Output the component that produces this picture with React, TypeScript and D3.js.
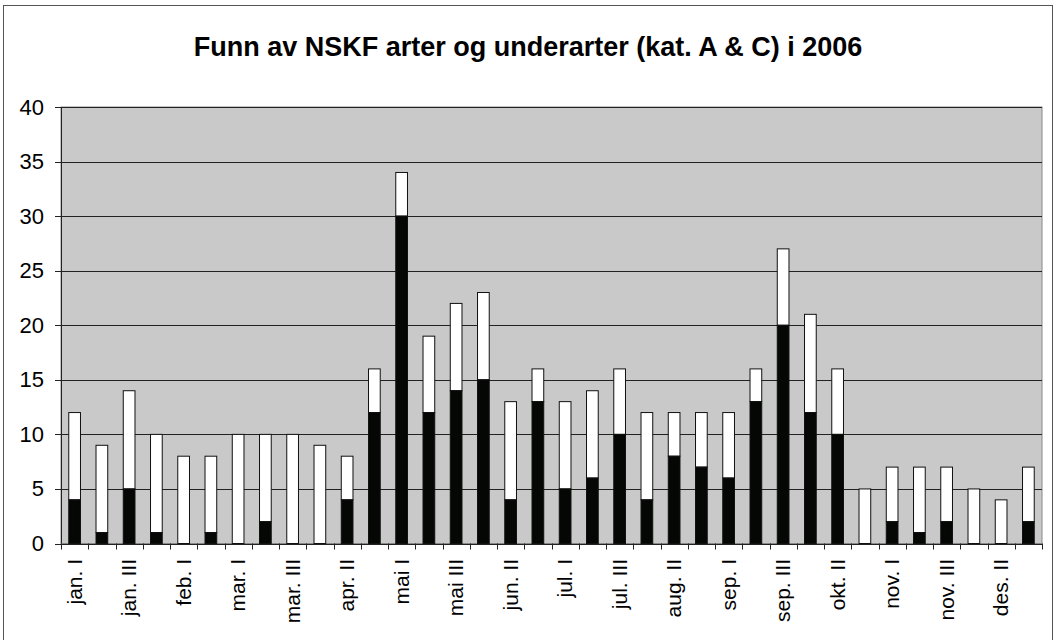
import React from 'react';
import * as d3 from 'd3';

const width = 1056;
const height = 640;

const periods = [
  'jan. I', 'jan. II', 'jan. III', 'jan. IV', 'feb. I', 'feb. II',
  'mar. I', 'mar. II', 'mar. III', 'apr. I', 'apr. II', 'apr. III',
  'mai I', 'mai II', 'mai III', 'jun. I', 'jun. II', 'jun. III',
  'jul. I', 'jul. II', 'jul. III', 'aug. I', 'aug. II', 'aug. III',
  'sep. I', 'sep. II', 'sep. III', 'okt. I', 'okt. II', 'okt. III',
  'nov. I', 'nov. II', 'nov. III', 'des. I', 'des. II', 'des. III',
];

// lower (black) part
const blackCounts = [4, 1, 5, 1, 0, 1, 0, 2, 0, 0, 4, 12, 30, 12, 14, 15, 4, 13, 5, 6, 10, 4, 8, 7, 6, 13, 20, 12, 10, 0, 2, 1, 2, 0, 0, 2];
// total height of each stack
const totalCounts = [12, 9, 14, 10, 8, 8, 10, 10, 10, 9, 8, 16, 34, 19, 22, 23, 13, 16, 13, 14, 16, 12, 12, 12, 12, 16, 27, 21, 16, 5, 7, 7, 7, 5, 4, 7];

const yTicks = [0, 5, 10, 15, 20, 25, 30, 35, 40];

const plot = { left: 61, right: 1042, top: 107, bottom: 543.5 };
const font = 'Arial, "Liberation Sans", sans-serif';

export default function App() {
  const x = d3.scaleBand().domain(periods).range([plot.left, plot.right]).paddingInner(0).paddingOuter(0);
  const y = d3.scaleLinear().domain([0, 40]).range([plot.bottom, plot.top]);
  const bw = x.bandwidth() * 0.43;

  return (
    <svg width={width} height={height} style={{ position: 'absolute', left: 0, top: 0 }}>
      <rect x={0} y={0} width={width} height={height} fill="#fff" />
      <rect x={3.5} y={5.5} width={1049} height={640} fill="none" stroke="#555" strokeWidth={1} />
      <text x={528} y={56} textAnchor="middle" fontFamily={font} fontWeight="bold" fontSize={27} fill="#000">
        Funn av NSKF arter og underarter (kat. A &amp; C) i 2006
      </text>

      <rect x={plot.left} y={plot.top} width={plot.right - plot.left} height={plot.bottom - plot.top} fill="#c8c9c8" stroke="#888" />
      {yTicks.map(t => (
        <g key={t}>
          <line x1={plot.left} x2={plot.right} y1={Math.round(y(t)) + 0.5} y2={Math.round(y(t)) + 0.5} stroke="#222" />
          <line x1={55} x2={plot.left} y1={Math.round(y(t)) + 0.5} y2={Math.round(y(t)) + 0.5} stroke="#222" />
          <text x={44} y={y(t) + 7.5} textAnchor="end" fontFamily={font} fontSize={22} fill="#000">{t}</text>
        </g>
      ))}
      <line x1={plot.left + 0.5} x2={plot.left + 0.5} y1={plot.top} y2={plot.bottom} stroke="#222" />

      {periods.map((p, i) => {
        const cx = x(p)! + x.bandwidth() / 2;
        const x0 = cx - bw / 2;
        return (
          <g key={p}>
            <rect x={x0} y={y(totalCounts[i])} width={bw} height={y(blackCounts[i]) - y(totalCounts[i])} fill="#fff" stroke="#111" strokeWidth={1} />
            {blackCounts[i] > 0 && (
              <rect x={x0} y={y(blackCounts[i])} width={bw} height={y(0) - y(blackCounts[i])} fill="#050705" stroke="#111" strokeWidth={1} />
            )}
          </g>
        );
      })}

      {periods.map((p, i) => (
        <line key={'t' + i} x1={Math.round(x(p)!) + 0.5} x2={Math.round(x(p)!) + 0.5} y1={plot.bottom} y2={plot.bottom + 6} stroke="#222" />
      ))}
      <line x1={Math.round(plot.right) + 0.5} x2={Math.round(plot.right) + 0.5} y1={plot.bottom} y2={plot.bottom + 6} stroke="#222" />

      {periods.map((p, i) => {
        if (i % 2 !== 0) return null;
        const cx = x(p)! + x.bandwidth() / 2;
        return (
          <text key={'l' + i} transform={`translate(${cx + 7},559) rotate(-90)`} textAnchor="end" fontFamily={font} fontSize={21} fill="#000">
            {p}
          </text>
        );
      })}
    </svg>
  );
}
